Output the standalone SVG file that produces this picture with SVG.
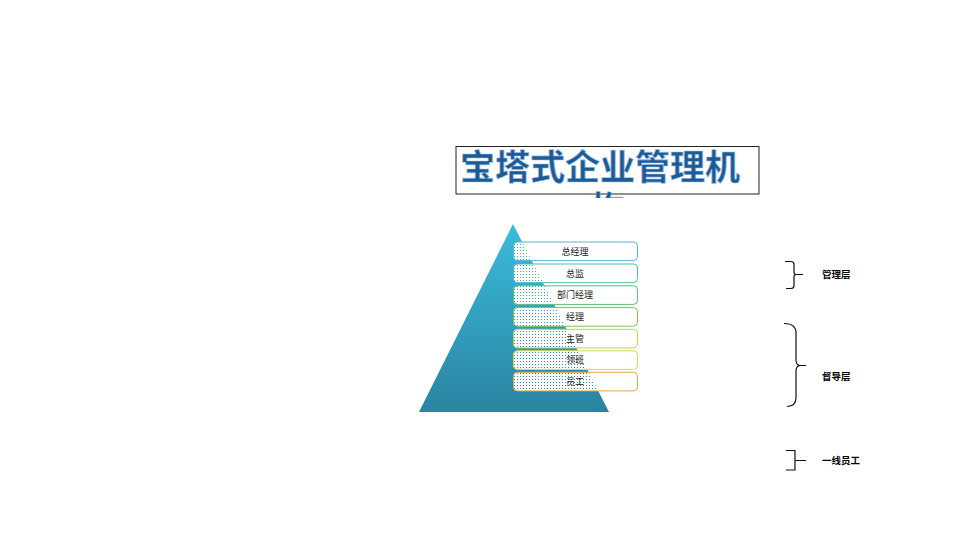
<svg xmlns="http://www.w3.org/2000/svg" width="960" height="540" viewBox="0 0 960 540">
  <style>
    .cjk { font-family: "Noto Sans CJK SC", "Noto Sans", sans-serif; }
    .title { font-size: 35px; font-weight: bold; fill: #1d5b97; stroke: #9fc3e3; stroke-width: 0.6; }
    .bar { fill: url(#dots); stroke-width: 1; }
    .barlabel { font-size: 9px; fill: #222; text-anchor: middle; }
    .brace { fill: none; stroke: #111; stroke-width: 1.2; }
    .side { font-size: 9.5px; font-weight: bold; fill: #000; }
  </style>
  <defs>
    <linearGradient id="tri" x1="0" y1="0" x2="0" y2="1">
      <stop offset="0" stop-color="#3bbbdc"/>
      <stop offset="1" stop-color="#2a84a1"/>
    </linearGradient>
    <pattern id="dots" width="3" height="3" patternUnits="userSpaceOnUse">
      <path d="M0 0H3V3H0Z M1 1H2V2H1Z" fill="#ffffff" fill-rule="evenodd"/>
    </pattern>
    <clipPath id="titleclip">
      <rect x="456" y="146" width="304" height="52"/>
    </clipPath>
  </defs>
  <rect width="960" height="540" fill="#ffffff"/>

  <g id="title">
    <rect x="456" y="146.5" width="303" height="47.5" fill="#ffffff" stroke="#222" stroke-width="1"/>
    <g clip-path="url(#titleclip)">
      <text class="cjk title" x="460" y="180">宝塔式企业管理机</text>
      <text class="cjk title" x="607.5" y="222" text-anchor="middle">构</text>
    </g>
  </g>

  <g id="pyramid">
    <polygon points="513,224 419,412 609,412" fill="url(#tri)"/>
  </g>

  <g id="level-1">
    <rect class="bar" x="513.5" y="242" width="124" height="18.6" rx="4" stroke="#55b6d2"/>
    <text class="cjk barlabel" x="575" y="254.5">总经理</text>
  </g>
  <g id="level-2">
    <rect class="bar" x="513.5" y="264" width="124" height="18.6" rx="4" stroke="#52bfb2"/>
    <text class="cjk barlabel" x="575" y="276.5">总监</text>
  </g>
  <g id="level-3">
    <rect class="bar" x="513.5" y="285.8" width="124" height="18.6" rx="4" stroke="#5ec274"/>
    <text class="cjk barlabel" x="575" y="298.3">部门经理</text>
  </g>
  <g id="level-4">
    <rect class="bar" x="513.5" y="307.6" width="124" height="18.6" rx="4" stroke="#82c454"/>
    <text class="cjk barlabel" x="575" y="320.1">经理</text>
  </g>
  <g id="level-5">
    <rect class="bar" x="513.5" y="329.3" width="124" height="18.6" rx="4" stroke="#bcd94c"/>
    <text class="cjk barlabel" x="575" y="341.8">主管</text>
  </g>
  <g id="level-6">
    <rect class="bar" x="513.5" y="350.8" width="124" height="18.6" rx="4" stroke="#e4d84c"/>
    <text class="cjk barlabel" x="575" y="363.3">领班</text>
  </g>
  <g id="level-7">
    <rect class="bar" x="513.5" y="372.3" width="124" height="18.6" rx="4" stroke="#e2a552"/>
    <text class="cjk barlabel" x="575" y="384.8">员工</text>
  </g>

  <g id="connectors">
    <path class="brace" d="M785 261.5 H791 Q794 261.5 794 264.5 V272 Q794 274.5 796 274.5 H803 M796 274.5 Q794 274.5 794 277 V285.5 Q794 288.5 791 288.5 H786"/>
    <path class="brace" d="M784 323.5 Q796 323.5 796 333 V360 Q796 365 800 365.5 H806 M800 365.5 Q796 366 796 371 V398 Q796 406 787 406.5"/>
    <path class="brace" d="M786 450.5 H795 V470 H786 M795 460.5 H806"/>
  </g>

  <g id="label-management">
    <text class="cjk side" x="822" y="277.5">管理层</text>
  </g>
  <g id="label-supervision">
    <text class="cjk side" x="822" y="380">督导层</text>
  </g>
  <g id="label-frontline">
    <text class="cjk side" x="822" y="464">一线员工</text>
  </g>
</svg>
